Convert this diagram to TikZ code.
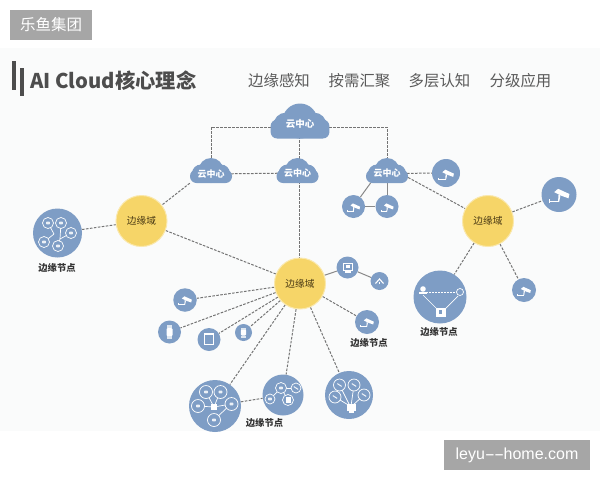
\documentclass[tikz,border=0pt]{standalone}
\usepackage{graphicx}
\usepackage{fontspec}
\setmainfont{Noto Sans CJK SC}
\newfontfamily\latinfont{Liberation Sans}
\definecolor{nodeblue}{HTML}{7E9DC5}
\definecolor{domyellow}{HTML}{F6D568}
\definecolor{linegray}{HTML}{747474}
\definecolor{bggray}{HTML}{FAFBFB}
\definecolor{badge}{HTML}{A6A6A6}
\definecolor{headtext}{HTML}{4D4D4D}
\definecolor{tabtext}{HTML}{5A5A5A}
\definecolor{domtext}{HTML}{4A3A14}
\pgfdeclarelayer{under}
\pgfsetlayers{under,main}
\tikzset{
  x=1pt,y=-1pt,
  conn/.style={draw=linegray,line width=1pt,dash pattern=on 2.6pt off 1.4pt},
  solidconn/.style={draw=linegray!85,line width=1pt},
  dom/.style={circle,fill=domyellow,draw=domyellow!55!white,line width=1pt,minimum size=51pt,inner sep=0pt,font=\fontsize{9.7}{10}\selectfont,text=domtext},
  dot/.style={circle,fill=nodeblue,minimum size=#1,inner sep=0pt},
  cloudlabel/.style={inner sep=0pt,minimum width=#1,minimum height=18pt,text=white,font=\bfseries\fontsize{9}{10}\selectfont},
  caption/.style={inner sep=0pt,text=black!80,font=\bfseries\fontsize{9.3}{10}\selectfont},
  tabitem/.style={inner sep=0pt,text=tabtext,font=\fontsize{15.4}{16}\selectfont},
  badgebox/.style={fill=badge,text=white,inner sep=0pt},
  ic/.style={draw=white,line width=0.7pt},
}
\newcommand{\cloudshape}[3]{%
  \begin{scope}[shift={(#1,#2)},scale=#3]
    \fill[nodeblue,rounded corners=6.5pt] (-21,-1) rectangle (21,12.5);
    \fill[nodeblue] (0,0) circle[radius=12.5];
    \fill[nodeblue] (-10,3) circle[radius=9];
    \fill[nodeblue] (10,3) circle[radius=9];
  \end{scope}}
\newcommand{\cam}[3]{%
  \begin{scope}[shift={(#1,#2)},scale=#3]
    \fill[white] (-5,-2.5) -- (-1,-6) -- (11,-0.5) -- (10,4) -- (3,1.5) -- cycle;
    \fill[white] (-0.5,0) -- (1.5,1) -- (0.3,7.5) -- (-1,7.5) -- cycle;
    \fill[white] (-10,6.5) rectangle (0,7.7);
    \fill[white] (-10.5,5) rectangle (-9.2,8.5);
  \end{scope}}
\newcommand{\ring}[3]{\draw[ic,fill=nodeblue] (#1,#2) circle[radius=#3];}
\newcommand{\wire}[4]{\draw[ic] (#1,#2) -- (#3,#4);}
\newcommand{\mini}[2]{\fill[white,opacity=0.85,rounded corners=0.5pt] (#1-1.8,#2-1.3) rectangle (#1+1.8,#2+1.3);}
\newcommand{\slant}[2]{\draw[white,opacity=0.9,line width=1pt] (#1-2.2,#2-1.4) -- (#1+2.2,#2+1.4);}
\begin{document}
\begin{tikzpicture}
\useasboundingbox (0,0) rectangle (600,480);
\begin{pgfonlayer}{under}
\fill[white] (0,0) rectangle (600,480);
\fill[bggray] (0,48) rectangle (600,431);
\end{pgfonlayer}

% badges
\node[badgebox,minimum width=82pt,minimum height=30pt,font=\fontsize{15.5}{18}\selectfont] (brand) at (51,25) {乐鱼集团};
\node[badgebox,minimum width=146pt,minimum height=30pt,font=\latinfont\fontsize{16}{18}\selectfont] (site) at (517,455) {leyu\scalebox{1.9}[1]{-}\kern-1pt\scalebox{1.9}[1]{-}\kern-0.5pt home.com};

% heading
\fill[headtext] (12,61) rectangle (15.5,90);
\fill[headtext] (20,68) rectangle (23.5,96);
\node[inner sep=0pt,anchor=west,text=headtext,font=\bfseries\fontsize{20.3}{21}\selectfont] (title) at (30,81) {AI Cloud核心理念};
\node[tabitem] (t1) at (279,81) {边缘感知};
\node[tabitem] (t2) at (359.5,81) {按需汇聚};
\node[tabitem] (t3) at (439.5,81) {多层认知};
\node[tabitem] (t4) at (520.5,81) {分级应用};

% clouds
\cloudshape{300}{121}{1.4}
\cloudshape{211}{170.5}{1}
\cloudshape{297.5}{170.5}{1}
\cloudshape{387}{170.5}{1}
\node[cloudlabel=58pt,minimum height=30pt,font=\bfseries\fontsize{9.5}{10}\selectfont] (ctop) at (300,124) {云中心};
\node[cloudlabel=42pt] (cleft) at (211,174) {云中心};
\node[cloudlabel=42pt] (cmid) at (297.5,173) {云中心};
\node[cloudlabel=42pt] (cright) at (387,173.5) {云中心};
\coordinate (vx) at (299,150);

% domains
\node[dom] (dl) at (141.5,221) {边缘域};
\node[dom] (dc) at (300,283.5) {边缘域};
\node[dom] (dr) at (488,221) {边缘域};

% blue nodes
\node[dot=49pt] (nl) at (57.5,233) {};
\node[dot=28pt] (camr) at (446,173) {};
\node[dot=23pt] (caml) at (353.5,206.5) {};
\node[dot=23pt] (camm) at (387,206.5) {};
\node[dot=35pt] (camf) at (559,194.5) {};
\node[dot=53pt] (nr) at (440,297) {};
\node[dot=24pt] (camb) at (524,290) {};
\node[dot=22pt] (mon) at (347.5,267.5) {};
\node[dot=18pt] (rout) at (379.5,281) {};
\node[dot=24pt] (camc) at (367,322) {};
\node[dot=23.5pt] (camw) at (185,300) {};
\node[dot=23pt] (wat) at (169.5,332) {};
\node[dot=23pt] (tab) at (209,339.5) {};
\node[dot=17pt] (wats) at (243.5,332.5) {};
\node[dot=52pt] (ba) at (215,406) {};
\node[dot=41pt] (bb) at (283,395) {};
\node[dot=48pt] (bc) at (349,395) {};

% captions
\node[caption] (capl) at (57,268) {边缘节点};
\node[caption] (capr) at (439,332) {边缘节点};
\node[caption] (capc) at (369,343) {边缘节点};
\node[caption] (capb) at (264.5,423) {边缘节点};

% connectors
\begin{pgfonlayer}{under}
\draw[conn] ([yshift=-3pt]ctop.west) -| (cleft.center);
\draw[conn] ([yshift=-3pt]ctop.east) -| (cright.center);
\draw[conn] (vx |- ctop.center) -- (vx |- cmid.center);
\draw[conn] (cleft.center) -- (cmid.center);
\draw[conn] (vx |- cmid.center) -- (vx |- dc.north);
\draw[conn] (cleft.south west) -- (dl);
\draw[conn] (nl) -- (dl);
\draw[conn] (dl) -- (dc);
\draw[conn] (cright.center) -- (camr);
\draw[conn] ([yshift=-4pt]cright.east) -- (dr);
\draw[solidconn] ([xshift=5pt]cright.south west) -- (caml);
\draw[solidconn] (cright.south) -- (camm);
\draw[solidconn] (caml) -- (camm);
\draw[conn] (dr) -- (camf);
\draw[conn] (dr) -- (nr);
\draw[conn] (dr) -- (camb);
\draw[solidconn] (dc) -- (mon);
\draw[solidconn] (mon) -- (rout);
\draw[conn] (dc) -- (camc);
\draw[conn] (dc) -- (camw);
\draw[conn] (dc) -- (wat);
\draw[conn] (dc) -- (tab);
\draw[conn] (dc) -- (wats);
\draw[conn] (dc) -- (ba);
\draw[conn] (dc) -- (bb);
\draw[conn] (dc) -- (bc);
\draw[conn] (ba) -- (bb);
\end{pgfonlayer}

% camera icons
\cam{446}{174}{0.72}
\cam{353.5}{207}{0.6}
\cam{387}{207}{0.6}
\cam{559}{194.5}{0.95}
\cam{524}{290.5}{0.62}
\cam{367}{322}{0.62}
\cam{185}{300}{0.62}

% small device icons
\draw[ic] (343.5,263.5) rectangle (352,270);
\fill[white] (345,270) rectangle (350.5,272.5);
\fill[white] (345.5,265) rectangle (350,268);
\draw[white,line width=1.1pt] (375.5,283.5) -- (379.5,279) -- (383.5,283.5);
\fill[white] (378.7,282) rectangle (380.3,284);
\fill[white,rounded corners=1pt] (166.5,328) rectangle (172.5,336);
\fill[white!75!nodeblue] (167,325) rectangle (172,328);
\fill[white!75!nodeblue] (167,336) rectangle (172,339);
\draw[white,line width=1.1pt] (204.5,334) rectangle (213.5,344.5);
\fill[white,rounded corners=1pt] (240.8,329.5) rectangle (246.2,335.5);
\fill[white!75!nodeblue] (241.3,327.5) rectangle (245.7,329.5);
\fill[white!75!nodeblue] (241.3,335.5) rectangle (245.7,337.5);

% left node cluster
\wire{48}{223}{54}{234} \wire{54}{234}{44}{242} \wire{61}{223}{60}{239} \wire{71}{233}{60}{239} \wire{60}{239}{58}{246}
\ring{48}{223}{5.5} \ring{61}{223}{5.5} \ring{71}{233}{5.5} \ring{44}{242}{5.5} \ring{58}{246}{5.5}
\mini{48}{223} \mini{61}{223} \mini{71}{233} \mini{44}{242} \mini{58}{246}

% big node a
\wire{206}{392}{214}{407} \wire{220}{392}{214}{407} \wire{198}{406}{214}{407} \wire{231}{404}{214}{407} \wire{214}{420}{231}{404}
\ring{206}{392}{6.5} \ring{220.5}{392}{6.5} \ring{198}{406}{6.5} \ring{231.5}{404}{6.5} \ring{214}{420}{6.5}
\mini{206}{392} \mini{220.5}{392} \mini{198}{406} \mini{231.5}{404} \mini{214}{420}
\fill[white] (211,404) rectangle (217,410);

% big node b
\wire{270}{399}{281}{388} \wire{281}{388}{288}{400} \wire{281}{388}{296}{388}
\ring{270}{399}{5} \ring{281}{388}{5.5} \ring{296}{388}{5} \ring{288}{400}{5.5}
\mini{270}{399} \mini{281}{388} \slant{296}{388}
\fill[white] (285.5,397) rectangle (290.5,403);

% big node c
\wire{339.5}{385}{350}{406} \wire{354}{385}{351}{406} \wire{335}{397}{350}{406} \wire{364}{395}{352}{406}
\ring{339.5}{385}{6} \ring{354}{385}{6} \ring{335}{397}{6} \ring{364}{395}{6}
\slant{339.5}{385} \slant{354}{385} \slant{335}{397} \slant{364}{395}
\fill[white] (346.5,404) rectangle (355.5,410.5);
\fill[white] (348.5,410.5) rectangle (353.5,413);

% right big node
\draw[white,line width=0.9pt,dash pattern=on 2pt off 1pt] (426,292) -- (456,292);
\wire{423}{295}{437}{309} \wire{458}{296}{445}{309}
\draw[ic] (460,292) circle[radius=3.5];
\fill[white] (423,289) circle[radius=2.8];
\fill[white] (419,291.5) rectangle (427,293.5);
\fill[white] (436,308) rectangle (446,317);
\fill[nodeblue] (439,310) rectangle (442,314);
\end{tikzpicture}
\end{document}
